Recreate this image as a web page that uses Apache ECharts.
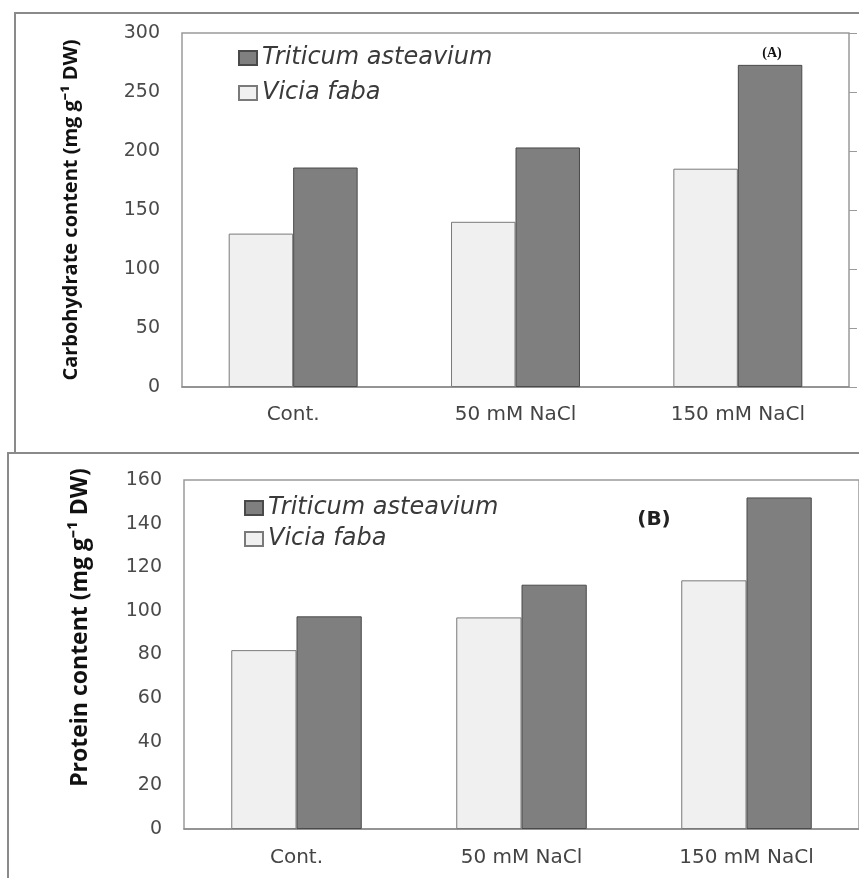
<!DOCTYPE html>
<html>
<head>
<meta charset="utf-8">
<script src="https://cdn.jsdelivr.net/npm/echarts@6/dist/echarts.min.js"></script>
<style>
html,body{margin:0;padding:0;background:#fff;}
#chart{width:859px;height:878px;}
</style>
</head>
<body>
<div id="chart"></div>
<script>
// ---- data ----
const categories = ['Cont.', '50 mM NaCl', '150 mM NaCl'];
const seriesNames = ['Triticum asteavium', 'Vicia faba'];
// Panel A: carbohydrate content (mg g-1 DW)
const carbTriticum = [186, 203, 273];
const carbVicia = [130, 140, 185];
// Panel B: protein content (mg g-1 DW)
const protTriticum = [97.5, 112, 152];
const protVicia = [82, 97, 114];
const carbTicks = {min: 0, max: 300, interval: 50};
const protTicks = {min: 0, max: 160, interval: 20};
const carbTitle = 'Carbohydrate content (mg g\u207B\u00B9 DW)';
const protTitle = 'Protein content (mg g\u207B\u00B9 DW)';

const chart = echarts.init(document.getElementById('chart'), null, {renderer: 'canvas'});

const darkStyle = {color: '#7f7f7f', borderColor: '#4a4a4a', borderWidth: 1};
const lightStyle = {color: '#f0f0f0', borderColor: '#7a7a7a', borderWidth: 1};
const tickFont = {fontFamily: 'DejaVu Sans', fontSize: 19, color: '#4a4a4a'};
const catFont = {fontFamily: 'DejaVu Sans', fontSize: 20, color: '#444'};
const legendText = {fontFamily: 'DejaVu Sans', fontStyle: 'italic', fontSize: 24, color: '#3a3a3a', lineHeight: 24};

const option = {
  animation: false,
  backgroundColor: '#fff',
  graphic: [
    {type: 'rect', z: -20, shape: {x: 15, y: 13, width: 860, height: 445}, style: {fill: 'none', stroke: '#8a8a8a', lineWidth: 2}},
    {type: 'rect', z: -10, shape: {x: 8, y: 453, width: 870, height: 440}, style: {fill: '#fff', stroke: '#8a8a8a', lineWidth: 2}},
    {type: 'text', z: 10, x: 772, y: 53, style: {text: '(A)', font: 'bold 14px "Liberation Serif"', fill: '#111', align: 'center', verticalAlign: 'middle'}},
    {type: 'text', z: 10, x: 654, y: 520, style: {text: '(B)', font: 'bold 20px "DejaVu Sans"', fill: '#222', align: 'center', verticalAlign: 'middle'}}
  ],
  legend: [
    {
      data: [seriesNames[0], seriesNames[1]],
      orient: 'vertical', left: 233, top: 41,
      itemWidth: 18, itemHeight: 14, itemGap: 11,
      icon: 'rect', textStyle: legendText, selectedMode: false
    },
    {
      data: [seriesNames[0] + ' ', seriesNames[1] + ' '],
      orient: 'vertical', left: 239, top: 491,
      itemWidth: 18, itemHeight: 14, itemGap: 7,
      icon: 'rect', textStyle: legendText, selectedMode: false
    }
  ],
  grid: [
    {left: 182, top: 33, width: 667, height: 354, show: true, borderColor: '#9a9a9a', borderWidth: 1.5, backgroundColor: '#fff'},
    {left: 184, top: 480, width: 677, height: 349, show: true, borderColor: '#9a9a9a', borderWidth: 1.5, backgroundColor: '#fff'}
  ],
  xAxis: [
    {type: 'category', gridIndex: 0, data: categories, axisLine: {lineStyle: {color: '#8a8a8a', width: 1.5}}, axisTick: {show: false}, axisLabel: Object.assign({margin: 18}, catFont)},
    {type: 'category', gridIndex: 1, data: categories, axisLine: {lineStyle: {color: '#8a8a8a', width: 1.5}}, axisTick: {show: false}, axisLabel: Object.assign({margin: 19}, catFont)}
  ],
  yAxis: [
    {type: 'value', gridIndex: 0, min: carbTicks.min, max: carbTicks.max, interval: carbTicks.interval,
     axisLine: {show: false}, axisTick: {show: false}, splitLine: {show: false},
     axisLabel: Object.assign({margin: 22}, tickFont),
     name: carbTitle, nameLocation: 'middle', nameGap: 101,
     nameTextStyle: {fontFamily: 'Open Sans', fontWeight: 'bold', fontSize: 20, color: '#111'}},
    {type: 'value', gridIndex: 0, position: 'right', min: carbTicks.min, max: carbTicks.max, interval: carbTicks.interval,
     axisLine: {show: false}, axisTick: {show: true, inside: false, length: 8, lineStyle: {color: '#9a9a9a'}}, splitLine: {show: false},
     axisLabel: {show: false}},
    {type: 'value', gridIndex: 1, min: protTicks.min, max: protTicks.max, interval: protTicks.interval,
     axisLine: {show: false}, axisTick: {show: false}, splitLine: {show: false},
     axisLabel: Object.assign({margin: 22}, tickFont),
     name: protTitle, nameLocation: 'middle', nameGap: 92,
     nameTextStyle: {fontFamily: 'Open Sans', fontWeight: 'bold', fontSize: 23, color: '#111', padding: [0, 0, 0, 54]}}
  ],
  series: [
    {name: seriesNames[1], type: 'bar', xAxisIndex: 0, yAxisIndex: 0, data: carbVicia, itemStyle: lightStyle, barGap: '0%', barCategoryGap: '42%'},
    {name: seriesNames[0], type: 'bar', xAxisIndex: 0, yAxisIndex: 0, data: carbTriticum, itemStyle: darkStyle, barGap: '0%', barCategoryGap: '42%'},
    {name: seriesNames[1] + ' ', type: 'bar', xAxisIndex: 1, yAxisIndex: 2, data: protVicia, itemStyle: lightStyle, barGap: '0%', barCategoryGap: '42%'},
    {name: seriesNames[0] + ' ', type: 'bar', xAxisIndex: 1, yAxisIndex: 2, data: protTriticum, itemStyle: darkStyle, barGap: '0%', barCategoryGap: '42%'}
  ]
};
chart.setOption(option);
</script>
</body>
</html>
